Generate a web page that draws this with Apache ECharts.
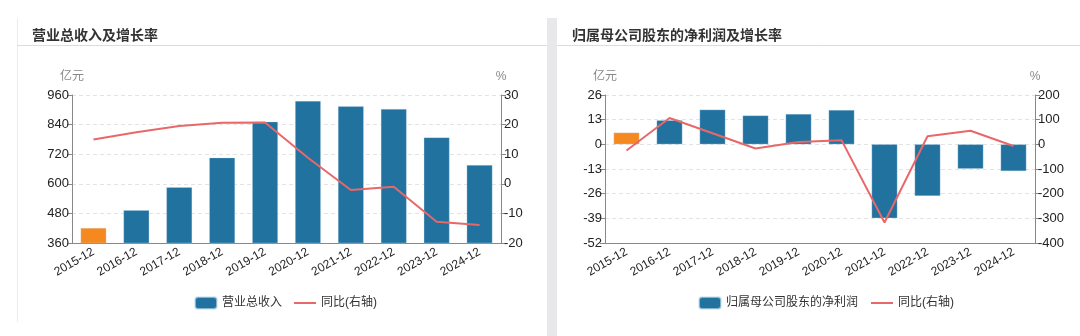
<!DOCTYPE html>
<html>
<head>
<meta charset="utf-8">
<script src="https://cdn.jsdelivr.net/npm/echarts@6/dist/echarts.min.js"></script>
<style>
  html, body { margin: 0; padding: 0; background: #fff; }
  #chart { width: 1080px; height: 336px; }
</style>
</head>
<body>
<div id="chart"></div>
<script>
// Reporting periods shared by both panels
const periods = ['2015-12', '2016-12', '2017-12', '2018-12', '2019-12',
                 '2020-12', '2021-12', '2022-12', '2023-12', '2024-12'];

// Panel 1: total operating revenue (亿元) and YoY growth (%)
const revenue = [421, 493, 586, 706, 852, 936, 914, 903, 788, 676];
const revenueYoY = [15.0, 17.4, 19.5, 20.6, 20.7, 8.8, -2.1, -1.0, -12.8, -13.9];

// Panel 2: net profit attributable to parent shareholders (亿元) and YoY growth (%)
const netProfit = [6.2, 12.7, 18.3, 15.2, 16.0, 18.1, -38.9, -27.2, -12.9, -14.1];
const netProfitYoY = [-25, 107, 45, -17, 9, 17, -317, 33, 55, -7];

// Axis ranges / tick steps
const revAxis = { min: 360, max: 960, interval: 120 };
const revPctAxis = { min: -20, max: 30, interval: 10 };
const npAxis = { min: -52, max: 26, interval: 13 };
const npPctAxis = { min: -400, max: 200, interval: 100 };

const FONT = '"Liberation Sans", Arial, "Noto Sans CJK SC", sans-serif';
const BAR = '#21729f';
const FIRST_BAR = '#f5891f';
const LINE = '#e8686a';

function barData(vals) {
  return vals.map((v, i) => i === 0 ? { value: v, itemStyle: { color: FIRST_BAR } } : v);
}

function valueAxis(gridIndex, range, name, position) {
  return {
    type: 'value', gridIndex, position,
    min: range.min, max: range.max, interval: range.interval,
    name, nameGap: 12,
    nameTextStyle: { color: '#888', fontSize: 12, fontFamily: FONT,
                     align: 'center' },
    axisLine: { show: true, onZero: false, lineStyle: { color: '#888' } },
    axisTick: { show: true, length: 5, lineStyle: { color: '#888' } },
    axisLabel: { color: '#222', fontSize: 13, fontFamily: FONT, margin: 3 },
    splitLine: position === 'left'
      ? { show: true, lineStyle: { color: '#e3e3e3', type: [4, 3] } }
      : { show: false }
  };
}

function categoryAxis(gridIndex) {
  return {
    type: 'category', gridIndex, data: periods,
    axisLine: { onZero: false, lineStyle: { color: '#888' } },
    axisTick: { alignWithLabel: true, length: 5, lineStyle: { color: '#888' } },
    axisLabel: { color: '#222', fontSize: 12, fontFamily: FONT, rotate: 30,
                 margin: 8, interval: 0 }
  };
}

// legend entry for a growth line: plain stroke, no marker
function lineEntry(name) {
  return { name, itemStyle: { opacity: 0 }, lineStyle: { color: LINE, width: 2 } };
}

const chart = echarts.init(document.getElementById('chart'), null, { renderer: 'canvas' });

chart.setOption({
  animation: false,
  backgroundColor: '#fff',
  textStyle: { fontFamily: FONT },
  title: [
    { text: '营业总收入及增长率', left: 27, top: 24,
      textStyle: { fontSize: 14, fontWeight: 'bold', color: '#333', fontFamily: FONT } },
    { text: '归属母公司股东的净利润及增长率', left: 567, top: 24,
      textStyle: { fontSize: 14, fontWeight: 'bold', color: '#333', fontFamily: FONT } }
  ],
  graphic: [
    // panel frames
    { type: 'line', shape: { x1: 17.5, y1: 18, x2: 17.5, y2: 322 },
      style: { stroke: '#ececec', lineWidth: 1 } },
    { type: 'line', shape: { x1: 17, y1: 45.5, x2: 547, y2: 45.5 },
      style: { stroke: '#dcdcdc', lineWidth: 1 } },
    { type: 'line', shape: { x1: 557, y1: 45.5, x2: 1080, y2: 45.5 },
      style: { stroke: '#dcdcdc', lineWidth: 1 } },
    { type: 'rect', shape: { x: 547, y: 18, width: 10, height: 318 },
      style: { fill: '#e8e8ea' } }
  ],
  grid: [
    { left: 72, right: 579, top: 95, bottom: 93 },
    { left: 605, right: 45, top: 95, bottom: 93 }
  ],
  legend: [
    { left: 189, top: 291, itemWidth: 22, itemHeight: 12, itemGap: 11,
      textStyle: { color: '#333', fontSize: 12, fontFamily: FONT },
      data: [{ name: '营业总收入', icon: 'roundRect' }, lineEntry('同比(右轴)')] },
    { left: 693, top: 291, itemWidth: 22, itemHeight: 12, itemGap: 12,
      textStyle: { color: '#333', fontSize: 12, fontFamily: FONT },
      data: [{ name: '归属母公司股东的净利润', icon: 'roundRect' }, lineEntry('同比(右轴) ')] }
  ],
  xAxis: [categoryAxis(0), categoryAxis(1)],
  yAxis: [
    valueAxis(0, revAxis, '亿元', 'left'),
    valueAxis(0, revPctAxis, '%', 'right'),
    valueAxis(1, npAxis, '亿元', 'left'),
    valueAxis(1, npPctAxis, '%', 'right')
  ],
  series: [
    { name: '营业总收入', type: 'bar', xAxisIndex: 0, yAxisIndex: 0,
      barWidth: '60%', data: barData(revenue),
      itemStyle: { color: BAR, borderColor: 'rgba(200,225,240,0.6)', borderWidth: 0.5 } },
    { name: '同比(右轴)', type: 'line', xAxisIndex: 0, yAxisIndex: 1,
      data: revenueYoY, symbol: 'none', lineStyle: { color: LINE, width: 2 },
      itemStyle: { color: LINE } },
    { name: '归属母公司股东的净利润', type: 'bar', xAxisIndex: 1, yAxisIndex: 2,
      barWidth: '60%', data: barData(netProfit),
      itemStyle: { color: BAR, borderColor: 'rgba(200,225,240,0.6)', borderWidth: 0.5 } },
    { name: '同比(右轴) ', type: 'line', xAxisIndex: 1, yAxisIndex: 3,
      data: netProfitYoY, symbol: 'none', lineStyle: { color: LINE, width: 2 },
      itemStyle: { color: LINE } }
  ]
});
</script>
</body>
</html>
